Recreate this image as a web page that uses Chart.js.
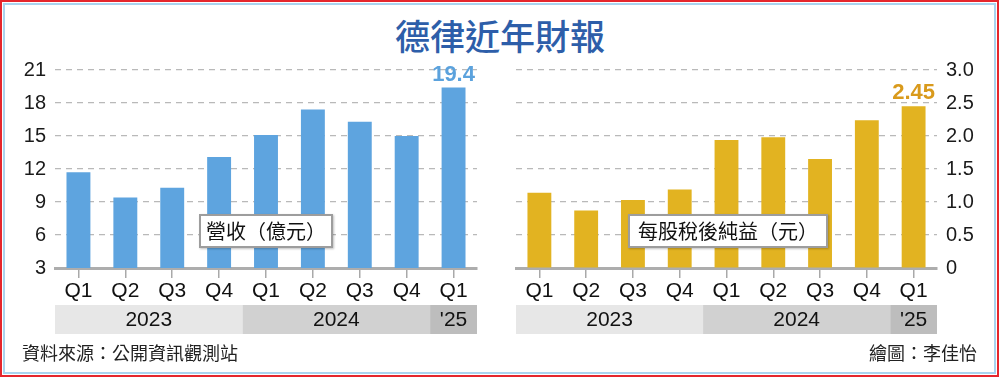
<!DOCTYPE html>
<html>
<head>
<meta charset="utf-8">
<script src="https://cdn.jsdelivr.net/npm/chart.js@4.4.1/dist/chart.umd.min.js"></script>
<style>
  html, body { margin:0; padding:0; background:#fff; }
  #page { position:relative; width:1000px; height:377px; overflow:hidden; background:#fff;
          font-family:"Noto Sans CJK TC","Noto Sans CJK SC",sans-serif; }
  #outer { position:absolute; left:0; top:0; width:999px; height:377px; box-sizing:border-box; border:2px solid #e5262d; }
  #inner { position:absolute; left:3px; top:3px; width:993px; height:371px; box-sizing:border-box; border:2px solid #a9d4ef; }
  #title { position:absolute; left:0; width:1000px; top:12px; text-align:center; font-size:35px; line-height:46px; color:#2d5ea9; font-weight:500; letter-spacing:0px; }
  canvas { position:absolute; top:0; }
  #c1 { left:0; }
  #c2 { left:500px; }
  .box { position:absolute; height:34px; box-sizing:border-box; border:2px solid #9d9d9d; background:#fff;
         font-size:20px; line-height:30px; text-align:center; color:#111; box-shadow:1px 1px 2px rgba(0,0,0,0.25); z-index:5; }
  #box1 { left:199px; top:214px; width:134px; }
  #box2 { left:628px; top:214px; width:200px; }
  .foot { position:absolute; top:340px; font-size:18px; line-height:24px; color:#222; }
  #src { left:22px; }
  #auth { right:23px; }
</style>
</head>
<body>
<div id="page">
  <div id="outer"></div>
  <div id="inner"></div>
  <div id="title">德律近年財報</div>
  <canvas id="c1" width="500" height="377"></canvas>
  <canvas id="c2" width="500" height="377"></canvas>
  <div class="box" id="box1">營收（億元）</div>
  <div class="box" id="box2">每股稅後純益（元）</div>
  <div class="foot" id="src">資料來源：公開資訊觀測站</div>
  <div class="foot" id="auth">繪圖：李佳怡</div>
</div>
<script>
const quarters = ['Q1','Q2','Q3','Q4','Q1','Q2','Q3','Q4','Q1'];
const yearLabels = ['2023','2024',"'25"];
const yearSpans = [4, 4, 1];
const revenue = [11.7, 9.4, 10.3, 13.1, 15.1, 17.4, 16.3, 15.0, 19.4];
const eps = [1.14, 0.87, 1.03, 1.19, 1.94, 1.98, 1.65, 2.24, 2.45];
const revenueLabel = '19.4';
const epsLabel = '2.45';
const revenueTicks = {min:3, max:21, step:3};
const epsTicks = {min:0, max:3, step:0.5};

Chart.defaults.font.family = '"Liberation Sans", Arial, sans-serif';
Chart.defaults.color = '#111';

const bandColors = ['#e7e7e7', '#d1d1d1', '#bdbdbd'];

function yearBandPlugin() {
  return {
    id: 'yearBands',
    afterDraw(chart) {
      const x = chart.scales.x;
      const ctx = chart.ctx;
      const n = chart.data.labels.length;
      const w = (x.right - x.left) / n;
      let idx = 0;
      ctx.save();
      yearSpans.forEach((span, i) => {
        const x0 = x.left + idx * w;
        const x1 = x.left + (idx + span) * w;
        ctx.fillStyle = bandColors[i];
        ctx.fillRect(x0, 305, x1 - x0, 29);
        ctx.fillStyle = '#111';
        ctx.font = '21px "Liberation Sans", Arial, sans-serif';
        ctx.textAlign = 'center';
        ctx.textBaseline = 'middle';
        ctx.fillText(yearLabels[i], (x0 + x1) / 2, 320);
        idx += span;
      });
      ctx.restore();
    }
  };
}

function valueLabelPlugin(text, color) {
  return {
    id: 'valueLabel',
    afterDatasetsDraw(chart) {
      const meta = chart.getDatasetMeta(0);
      const el = meta.data[meta.data.length - 1];
      const ctx = chart.ctx;
      ctx.save();
      ctx.fillStyle = color;
      ctx.font = 'bold 22px "Liberation Sans", Arial, sans-serif';
      ctx.textAlign = 'center';
      ctx.textBaseline = 'alphabetic';
      ctx.fillText(text, el.x, el.y - 7);
      ctx.restore();
    }
  };
}

function makeChart(id, data, color, ticksCfg, yPos, pad, yWidth, labelText, labelColor, fmt) {
  return new Chart(document.getElementById(id), {
    type: 'bar',
    data: {
      labels: quarters,
      datasets: [{ data: data, backgroundColor: color, borderWidth: 0,
                   categoryPercentage: 1, barPercentage: 0.51 }]
    },
    options: {
      responsive: false,
      animation: false,
      layout: { padding: pad },
      plugins: { legend: { display: false }, tooltip: { enabled: false } },
      scales: {
        x: {
          z: 1,
          grid: { display: true, drawOnChartArea: false, offset: false, drawTicks: true,
                  tickLength: 10, color: '#a9a9a9', lineWidth: 1.5 },
          border: { display: true, color: '#adadad', width: 3 },
          ticks: { font: { size: 21 }, color: '#111', padding: 1, maxRotation: 0, autoSkip: false },
          afterFit(s) { s.height = 109; }
        },
        y: {
          position: yPos,
          min: ticksCfg.min, max: ticksCfg.max,
          grid: { color: '#b9b9b9', lineWidth: 1.2, drawTicks: false },
          border: { display: false, dash: [6, 5] },
          ticks: { stepSize: ticksCfg.step, font: { size: 20 }, color: '#1a1a1a', padding: 9,
                   callback: fmt },
          afterFit(s) { s.width = yWidth; }
        }
      }
    },
    plugins: [yearBandPlugin(), valueLabelPlugin(labelText, labelColor)]
  });
}

makeChart('c1', revenue, '#5ea4df', revenueTicks, 'left',
  { left: 0, right: 23, top: 70, bottom: 0 }, 55, revenueLabel, '#5ba2dd', v => String(v));

makeChart('c2', eps, '#e2b321', epsTicks, 'right',
  { left: 16, right: 0, top: 70, bottom: 0 }, 63, epsLabel, '#d99a1c', v => v === 0 ? '0' : v.toFixed(1));
</script>
</body>
</html>
